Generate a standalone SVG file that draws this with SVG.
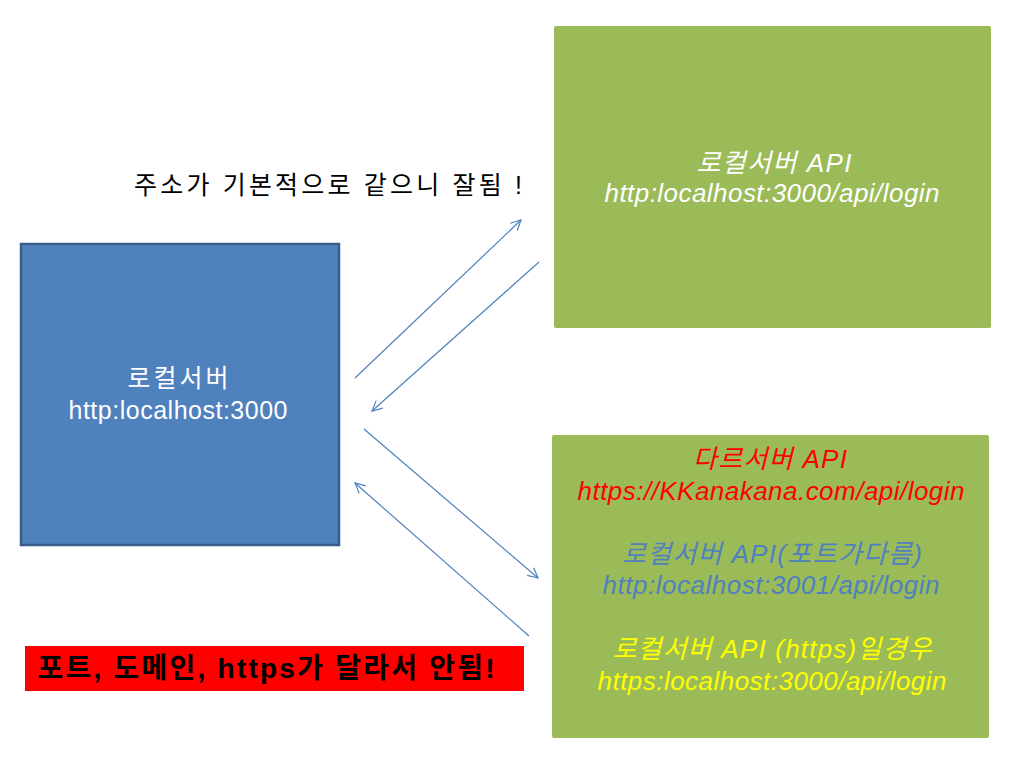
<svg xmlns="http://www.w3.org/2000/svg" width="1025" height="763" viewBox="0 0 1025 763">
<style>
text{font-family:"Liberation Sans","Noto Sans CJK KR",sans-serif;text-anchor:middle}
.it{font-style:italic;font-size:26px}
.c{stroke:#4F81BD;stroke-width:1.2;fill:none;marker-end:url(#ah)}
</style>
<defs>
<marker id="ah" viewBox="0 0 12 12" refX="11" refY="6" markerWidth="12" markerHeight="12" markerUnits="userSpaceOnUse" orient="auto">
<path d="M1,1 L11,6 L1,11" fill="none" stroke="#4F81BD" stroke-width="1.2"/>
</marker>
</defs>
<rect width="1025" height="763" fill="#fff"/>
<g id="local">
<rect x="21" y="244" width="318" height="301" fill="#4F81BD" stroke="#385D8A" stroke-width="2.5"/>
<text x="178" y="387" font-size="25" fill="#fff" textLength="101">로컬서버</text>
<text x="178" y="419" font-size="25" fill="#fff" textLength="219">http:localhost:3000</text>
</g>
<g id="api-local">
<rect x="554" y="26" width="437" height="302" rx="2" fill="#9BBB59"/>
<text class="it" x="774" y="172" fill="#fff" textLength="155">로컬서버 API</text>
<text class="it" x="772" y="202" fill="#fff" textLength="335">http:localhost:3000/api/login</text>
</g>
<g id="api-other">
<rect x="552" y="435" width="437" height="303" rx="2" fill="#9BBB59"/>
<text class="it" x="770" y="468" fill="#FF0000" textLength="154">다르서버 API</text>
<text class="it" x="771" y="500" fill="#FF0000" textLength="387">https://KKanakana.com/api/login</text>
<text class="it" x="772" y="563" fill="#4F81BD" textLength="300">로컬서버 API(포트가다름)</text>
<text class="it" x="771" y="594" fill="#4F81BD" textLength="337">http:localhost:3001/api/login</text>
<text class="it" x="772" y="658" fill="#FFFF00" textLength="319">로컬서버 API (https)일경우</text>
<text class="it" x="772" y="690" fill="#FFFF00" textLength="349">https:localhost:3000/api/login</text>
</g>
<g id="note-ok">
<text x="328" y="194" font-size="25" fill="#000" textLength="388">주소가 기본적으로 같으니 잘됨 !</text>
</g>
<g id="note-fail">
<rect x="25" y="646" width="499" height="45" fill="#FF0000"/>
<text x="266" y="678" font-size="28" font-weight="bold" fill="#000" textLength="457">포트, 도메인, https가 달라서 안됨!</text>
</g>
<g id="connectors">
<line class="c" x1="355" y1="378" x2="521" y2="220"/>
<line class="c" x1="539" y1="262" x2="372" y2="411"/>
<line class="c" x1="364" y1="429" x2="538" y2="578"/>
<line class="c" x1="529" y1="636" x2="355" y2="483"/>
</g>
</svg>
